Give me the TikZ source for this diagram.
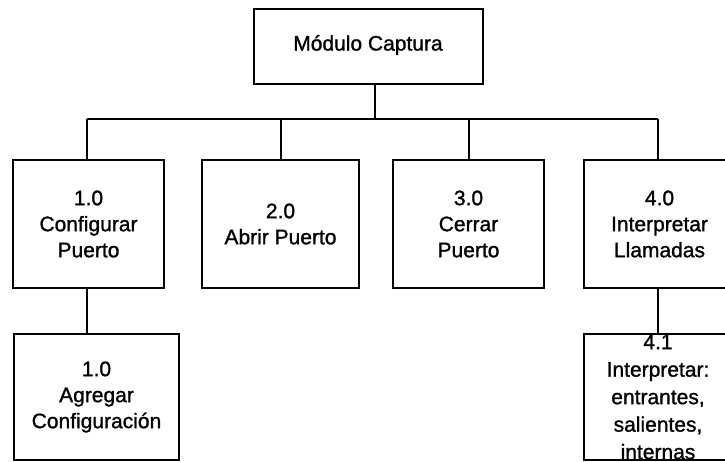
\documentclass[tikz,border=0pt]{standalone}
\usepackage{fontspec}
\setmainfont{Liberation Sans}
\newfontfamily\dfont{Liberation Sans}[FakeBold=1.2]
\begin{document}
\begin{tikzpicture}[x=1pt,y=-1pt,
  box/.style={draw,line width=2pt,inner sep=0pt,anchor=north west},
  lbl/.style={align=center,font=\dfont\fontsize{21}{26}\selectfont,inner sep=0pt},
  conn/.style={line width=2pt}]
\useasboundingbox (0,0) rectangle (725,461);
\clip (0,0) rectangle (725,461);
% top
\node[box,minimum width=229pt,minimum height=75pt] (top) at (253,8) {};
\node[lbl] (toplbl) at (368,45) {Módulo Captura};
% level 2
\node[box,minimum width=151pt,minimum height=128pt] (b1) at (12,159) {};
\node[lbl] at (b1.center) {1.0\\Configurar\\Puerto};
\node[box,minimum width=157pt,minimum height=128pt] (b2) at (201,159) {};
\node[lbl] at (b2.center) {2.0\\Abrir Puerto};
\node[box,minimum width=151pt,minimum height=128pt] (b3) at (392,159) {};
\node[lbl] at (b3.center) {3.0\\Cerrar\\Puerto};
\node[box,minimum width=151pt,minimum height=128pt] (b4) at (583,159) {};
\node[lbl] at (b4.center) {4.0\\Interpretar\\Llamadas};
% level 3
\node[box,minimum width=165pt,minimum height=126pt] (c1) at (13,333) {};
\node[lbl] at (c1.center) {1.0\\Agregar\\Configuración};
\node[box,minimum width=151pt,minimum height=126pt] (c4) at (583,333) {};
\node[lbl,font=\dfont\fontsize{21}{27.5}\selectfont,anchor=north] at (658,334.5) {4.1\\Interpretar:\\entrantes,\\salientes,\\internas};
% connectors
\coordinate (bus) at (375,119);
\coordinate (busL) at (87,119);
\coordinate (busR) at (658,119);
\draw[conn] (top.south -| bus) -- (bus);
\draw[conn] (busL) -- (busR);
\draw[conn] (busL) -- (b1.north -| busL);
\draw[conn] (b2.north |- bus) -- (b2.north);
\draw[conn] (b3.north |- bus) -- (b3.north);
\draw[conn] (busR) -- (b4.north -| busR);
\draw[conn] (b1.south -| busL) -- (c1.north -| busL);
\draw[conn] (b4.south -| busR) -- (c4.north -| busR);
\end{tikzpicture}
\end{document}
